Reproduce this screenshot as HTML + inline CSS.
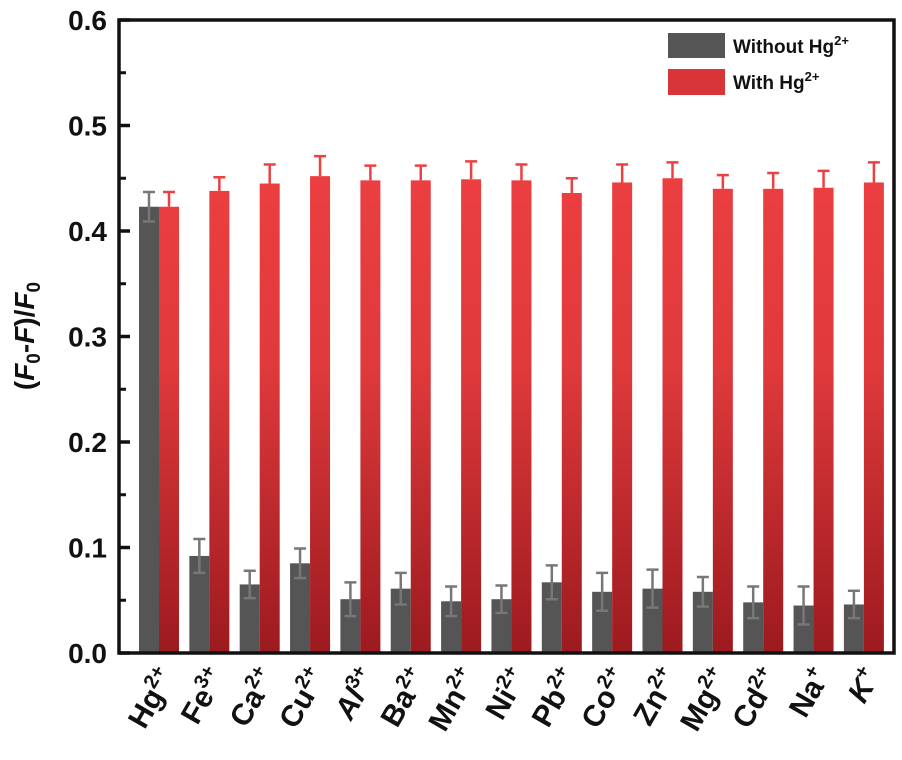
<!DOCTYPE html>
<html><head><meta charset="utf-8"><style>
body{margin:0;background:#fff}
svg text{font-family:"Liberation Sans",Arial,sans-serif;font-weight:bold;fill:#111}
</style></head><body>
<svg id="c" width="902" height="755">
<defs><linearGradient id="rg" gradientUnits="userSpaceOnUse" x1="0" y1="125" x2="0" y2="653">
<stop offset="0" stop-color="#ee4042"/><stop offset="0.45" stop-color="#e03a3c"/><stop offset="1" stop-color="#9c1a1f"/></linearGradient></defs>
</svg>
<script>
const ions=["Hg","Fe","Ca","Cu","Al","Ba","Mn","Ni","Pb","Co","Zn","Mg","Cd","Na","K"];
const charges=["2+","3+","2+","2+","3+","2+","2+","2+","2+","2+","2+","2+","2+","+","+"];
const without=[0.423,0.092,0.065,0.085,0.051,0.061,0.049,0.051,0.067,0.058,0.061,0.058,0.048,0.045,0.046];
const withoutErr=[0.014,0.016,0.013,0.014,0.016,0.015,0.014,0.013,0.016,0.018,0.018,0.014,0.015,0.018,0.013];
const withHg=[0.423,0.438,0.445,0.452,0.448,0.448,0.449,0.448,0.436,0.446,0.450,0.440,0.440,0.441,0.446];
const withErr=[0.014,0.013,0.018,0.019,0.014,0.014,0.017,0.015,0.014,0.017,0.015,0.013,0.015,0.016,0.019];
const yTicks=[0,0.1,0.2,0.3,0.4,0.5,0.6];
const NS="http://www.w3.org/2000/svg",svg=document.getElementById('c');
const L=119,R=894,T=20,B=653;
const y=v=>B-(v/0.6)*(B-T);
const x=i=>159+i*50.35;
function el(t,a,txt){const e=document.createElementNS(NS,t);for(const k in a)e.setAttribute(k,a[k]);if(txt!==undefined)e.textContent=txt;svg.appendChild(e);return e;}
ions.forEach((n,i)=>{
 const g=el('rect',{x:x(i)-20,y:y(without[i]),width:20,height:B-y(without[i]),fill:'#555555'});
 
 
 const r=el('rect',{x:x(i),y:y(withHg[i]),width:20,height:B-y(withHg[i]),fill:'url(#rg)'});
 
 
 const cx=x(i)-10,t1=y(without[i]+withoutErr[i]),b1=y(without[i]-withoutErr[i]);
 const e1=el('path',{d:`M${cx},${t1}V${b1}M${cx-6},${t1}H${cx+6}M${cx-6},${b1}H${cx+6}`,stroke:'#777',"stroke-width":2.5,fill:'none'});
 
 
 const cx2=x(i)+10,t2=y(withHg[i]+withErr[i]);
 const e2=el('path',{d:`M${cx2},${t2}V${y(withHg[i])}M${cx2-6},${t2}H${cx2+6}`,stroke:'#ee4042',"stroke-width":2.5,fill:'none'});
 
 
 const tx=x(i)+17,ty=676;
 const lb=el('text',{transform:`translate(${tx},${ty}) rotate(-60)`,"text-anchor":"end","font-size":30});
 
 
 const s1=document.createElementNS(NS,'tspan');s1.textContent=n;if(n==="Al"||n==="K")s1.setAttribute('font-style','italic');lb.appendChild(s1);
 const s2=document.createElementNS(NS,'tspan');s2.setAttribute('dy','-12');s2.setAttribute('font-size','20');s2.textContent=charges[i];lb.appendChild(s2);
});
const fr=el('rect',{x:L,y:T,width:R-L,height:B-T,fill:'none',stroke:'#111',"stroke-width":3.5});

yTicks.forEach((v,i)=>{
 const tk=el('line',{x1:L,x2:L+11,y1:y(v),y2:y(v),stroke:'#111',"stroke-width":3.5});
 
 if(i<yTicks.length-1){const m=el('line',{x1:L,x2:L+7,y1:y(v+0.05),y2:y(v+0.05),stroke:'#111',"stroke-width":3});
 }
 const t=el('text',{x:107,y:y(v)+10,"text-anchor":"end","font-size":28},v.toFixed(1));
 
});
const yt=el('text',{transform:'translate(34,336) rotate(-90)',"text-anchor":"middle","font-size":28});

yt.innerHTML='(<tspan font-style="italic">F</tspan><tspan font-size="19" dy="6">0</tspan><tspan dy="-6">-</tspan><tspan font-style="italic">F</tspan>)/<tspan font-style="italic">F</tspan><tspan font-size="19" dy="6">0</tspan>';
const lg1=el('rect',{x:668,y:33,width:57,height:25,fill:'#555'});

const lg2=el('rect',{x:668,y:69,width:57,height:26,fill:'#d8353a'});

const t1=el('text',{x:733,y:53,"font-size":19});t1.innerHTML='Without Hg<tspan font-size="13" dy="-8">2+</tspan>';

const t2=el('text',{x:733,y:89,"font-size":19});t2.innerHTML='With Hg<tspan font-size="13" dy="-8">2+</tspan>';

</script>
</body></html>
